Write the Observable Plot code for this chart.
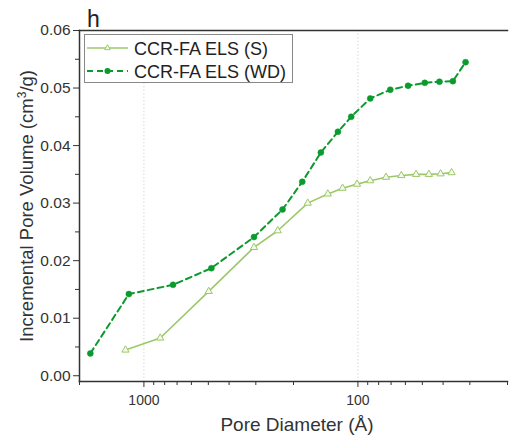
<!DOCTYPE html>
<html>
<head>
<meta charset="utf-8">
<script src="https://cdn.jsdelivr.net/npm/d3@7"></script>
<script src="https://cdn.jsdelivr.net/npm/@observablehq/plot@0.6"></script>
<style>
body { margin: 0; background: #fff; font-family: "Liberation Sans", Arial, sans-serif; }
#chart { position: relative; width: 510px; height: 437px; }
</style>
</head>
<body>
<div id="chart"></div>
<script>
// Series S (CCR-FA ELS (S))
const sDiameter = [1220, 839, 498, 306, 237, 171.6, 138.2, 118, 101, 87.6, 73.9, 62.7, 53.5, 46.6, 41.1, 36.5];
const sVolume   = [0.00447, 0.00656, 0.01466, 0.0223, 0.0252, 0.0300, 0.0316, 0.0326, 0.0333, 0.0339, 0.0345, 0.0348, 0.0350, 0.0350, 0.0351, 0.0353];
// Series WD (CCR-FA ELS (WD))
const wdDiameter = [1780, 1176, 731, 484, 306, 225, 182, 149, 124, 107.5, 87.6, 70.6, 58.3, 48.7, 41.6, 36.0, 31.4];
const wdVolume   = [0.00388, 0.0142, 0.0158, 0.0187, 0.0241, 0.0289, 0.0337, 0.0388, 0.0424, 0.0450, 0.0482, 0.0497, 0.0504, 0.0509, 0.0511, 0.0512, 0.0545];

const seriesNames = ["CCR-FA ELS (S)", "CCR-FA ELS (WD)"];
const xMajor = [1000, 100];
const xMinor = [2000, 900, 800, 700, 600, 500, 400, 300, 200, 90, 80, 70, 60, 50, 40, 30, 20];
const yMajor = [0, 0.01, 0.02, 0.03, 0.04, 0.05, 0.06];
const yMinor = [0.005, 0.015, 0.025, 0.035, 0.045, 0.055];

const sColor = "#9dc86a";
const wdColor = "#0b9a2e";

const sData = sDiameter.map((d, i) => ({d, v: sVolume[i]}));
const wdData = wdDiameter.map((d, i) => ({d, v: wdVolume[i]}));

const plot = Plot.plot({
  width: 510,
  height: 437,
  marginLeft: 79,
  marginTop: 30,
  marginRight: 3,
  marginBottom: 56,
  style: {fontFamily: "Liberation Sans, Arial, sans-serif", color: "#333", background: "#fff"},
  x: {type: "log", domain: [2000, 20]},
  y: {domain: [-0.001, 0.06]},
  marks: [
    Plot.ruleX(xMajor, {stroke: "#d8d8d8", strokeDasharray: "1.5,2"}),
    Plot.axisY({ticks: yMajor, tickSize: 6, tickFormat: d => d.toFixed(2), fontSize: 15.5, tickPadding: 3, label: null, stroke: "#333"}),
    Plot.axisY({ticks: yMinor, tickSize: 4, tickFormat: null, text: null, label: null, stroke: "#333"}),
    Plot.axisX({ticks: xMajor, tickSize: 6, tickFormat: d => String(d), fontSize: 14, tickPadding: 8, label: null, stroke: "#333"}),
    Plot.axisX({ticks: xMinor, tickSize: 4, text: null, label: null, stroke: "#333"}),
    Plot.frame({anchor: "top", stroke: "#333", strokeWidth: 1.5}),
    Plot.frame({anchor: "left", stroke: "#333", strokeWidth: 1.5}),
    Plot.frame({anchor: "bottom", stroke: "#333", strokeWidth: 1.5}),
    Plot.line(sData, {x: "d", y: "v", stroke: sColor, strokeWidth: 1.6}),
    Plot.dot(sData, {x: "d", y: "v", symbol: "triangle", r: 2.7, stroke: sColor, strokeWidth: 1, fill: "#f3f9ec"}),
    Plot.line(wdData, {x: "d", y: "v", stroke: wdColor, strokeWidth: 2, strokeDasharray: "6,4"}),
    Plot.dot(wdData, {x: "d", y: "v", r: 3, fill: wdColor, stroke: wdColor, strokeWidth: 0.5})
  ]
});

const svg = d3.select(plot);
// Axis labels
svg.append("text")
  .attr("transform", "translate(33,206) rotate(-90)")
  .attr("text-anchor", "middle")
  .attr("font-size", 18.5)
  .attr("fill", "#333")
  .html('Incremental Pore Volume (cm<tspan baseline-shift="super" font-size="12">3</tspan>/g)');
svg.append("text")
  .attr("x", 297).attr("y", 431)
  .attr("text-anchor", "middle")
  .attr("font-size", 19)
  .attr("fill", "#333")
  .text("Pore Diameter (Å)");
// Panel letter
svg.append("text")
  .attr("x", 87).attr("y", 27)
  .attr("text-anchor", "start")
  .attr("font-size", 23)
  .attr("fill", "#222")
  .text("h");
// Legend
const lg = svg.append("g").attr("text-anchor", "start");
lg.append("rect").attr("x", 84.5).attr("y", 34.5).attr("width", 208).attr("height", 48)
  .attr("fill", "#fff").attr("stroke", "#888").attr("stroke-width", 1);
const rows = [
  {y: 48, color: sColor, dash: null, sym: "tri"},
  {y: 71, color: wdColor, dash: "6,4", sym: "dot"}
];
rows.forEach((r, i) => {
  lg.append("line").attr("x1", 87).attr("x2", 128).attr("y1", r.y).attr("y2", r.y)
    .attr("stroke", r.color).attr("stroke-width", r.dash ? 2 : 1.6)
    .attr("stroke-dasharray", r.dash);
  if (r.sym === "tri") {
    lg.append("path").attr("d", d3.symbol(d3.symbolTriangle, 14)())
      .attr("transform", `translate(107.5,${r.y})`)
      .attr("fill", "#f3f9ec").attr("stroke", r.color);
  } else {
    lg.append("circle").attr("cx", 107.5).attr("cy", r.y).attr("r", 3).attr("fill", r.color);
  }
  lg.append("text").attr("x", 134).attr("y", r.y + 6.5)
    .attr("text-anchor", "start")
    .attr("font-size", 18).attr("fill", "#222").text(seriesNames[i]);
});

document.getElementById("chart").appendChild(plot);
</script>
</body>
</html>
